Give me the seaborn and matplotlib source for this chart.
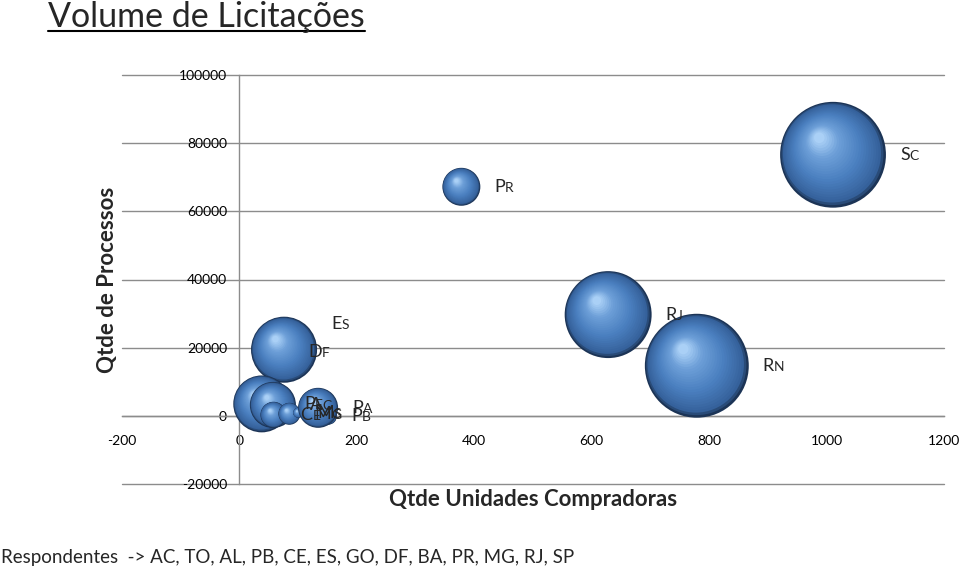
import numpy as np
import pandas as pd
import matplotlib
matplotlib.use("Agg")
import matplotlib.pyplot as plt
import seaborn as sns
from matplotlib.colors import LinearSegmentedColormap
from matplotlib.offsetbox import TextArea, HPacker, AnnotationBbox
from matplotlib.lines import Line2D

# --- dados ---
siglas = ["DF", "ES", "PE", "AC", "CE", "MG", "MS", "PB", "PA", "PR", "RJ", "RN", "SC"]
unidades = [76, 76, 38, 57, 58, 85, 100, 151, 134, 378, 628, 779, 1011]
processos = [18800, 19400, 3500, 3200, 300, 600, 900, 0, 2350, 67200, 29700, 14700, 76600]
tamanho = [100, 1090, 810, 530, 170, 120, 25, 80, 400, 360, 1890, 2700, 2800]

x_ticks = [-200, 0, 200, 400, 600, 800, 1000, 1200]
y_ticks = [-20000, 0, 20000, 40000, 60000, 80000, 100000]
respondentes = ["AC", "TO", "AL", "PB", "CE", "ES", "GO", "DF", "BA", "PR", "MG", "RJ", "SP"]

# ajustes de posicao dos rotulos (px)
LABEL_NUDGE = {"ES": (0, 26)}

FONTE = ["Lato", "DejaVu Sans"]
CINZA = "#8c8c8c"
DPI = 100

sns.set_style("white")
plt.rcParams["font.family"] = FONTE

fig = plt.figure(figsize=(9.6, 5.77), dpi=DPI)
ax = fig.add_axes([122 / 960, 1 - 484 / 577, 822 / 960, 409 / 577])
ax.set_xlim(-200, 1200)
ax.set_ylim(-20000, 100000)
ax.set_autoscale_on(False)

# --- bolhas com efeito de esfera (camadas) ---
esfera = LinearSegmentedColormap.from_list(
    "esfera",
    [(0.0, "#1c3456"), (0.08, "#36629c"), (0.4, "#4a7fbf"),
     (0.75, "#6d9fd8"), (1.0, "#aad0f6")])
N = 26
linhas = []
for sx, sy, t in zip(unidades, processos, tamanho):
    r = np.sqrt(t)  # raio em px
    cx, cy = ax.transData.transform((sx, sy))
    for k in range(N):
        f = k / (N - 1)
        rk = r * (1 - 0.9 * f)
        px = cx - 0.26 * r * f
        py = cy + 0.32 * r * f
        dx, dy = ax.transData.inverted().transform((px, py))
        linhas.append({"x": dx, "y": dy, "s": (2 * rk * 72 / DPI) ** 2, "f": f})
camadas = pd.DataFrame(linhas)
cores = esfera(camadas["f"].to_numpy())

sns.scatterplot(data=camadas, x="x", y="y", s=camadas["s"].to_numpy(), c=cores,
                edgecolor="none", linewidth=0, legend=False, ax=ax, zorder=3)
ax.set_xlim(-200, 1200)
ax.set_ylim(-20000, 100000)

# --- rotulos estilo versalete ---
for sig, sx, sy, t in zip(siglas, unidades, processos, tamanho):
    r = np.sqrt(t)
    nx, ny = LABEL_NUDGE.get(sig, (0, 0))
    a = TextArea(sig[0], textprops=dict(fontsize=13, family=FONTE))
    b = TextArea(sig[1:], textprops=dict(fontsize=10, family=FONTE))
    box = HPacker(children=[a, b], align="baseline", pad=0, sep=0)
    ab = AnnotationBbox(box, (sx, sy), xybox=((r + 14 + nx) * 0.72, ny * 0.72),
                        xycoords="data", boxcoords="offset points",
                        box_alignment=(0, 0.5), frameon=False, pad=0, zorder=5)
    ax.add_artist(ab)

# --- eixos ---
for lado in ["top", "right"]:
    ax.spines[lado].set_visible(False)
ax.spines["left"].set_position(("data", 0))
ax.spines["bottom"].set_position(("data", 0))
for lado in ["left", "bottom"]:
    ax.spines[lado].set_color(CINZA)
    ax.spines[lado].set_linewidth(1)

ax.set_xticks(x_ticks)
ax.set_xticklabels([str(v) for v in x_ticks])
ax.set_yticks(y_ticks)
ax.set_yticklabels([str(v) for v in y_ticks])
ax.tick_params(axis="both", direction="out", length=4, color=CINZA,
               labelsize=10, labelcolor="black")
ax.tick_params(axis="x", pad=10)
ax.tick_params(axis="y", pad=5)

ax.set_axisbelow(True)
ax.yaxis.grid(True, color=CINZA, linewidth=1)
ax.xaxis.grid(False)
for g in ax.get_ygridlines():
    g.set_clip_on(False)

ax.set_xlabel("Qtde Unidades Compradoras", fontsize=16, fontweight="bold")
ax.set_ylabel("Qtde de Processos", fontsize=16, fontweight="bold")
ax.xaxis.set_label_coords(0.5, -0.012)
ax.yaxis.set_label_coords(-0.005, 0.5)

# --- titulo sublinhado ---
titulo = fig.text(48 / 960, 1 - 27 / 577, "Volume de Licitações", fontsize=24.5,
                  va="baseline", ha="left")
fig.text(1 / 960, 1 - 563 / 577, "Respondentes  -> " + ", ".join(respondentes),
         fontsize=13.5, va="baseline", ha="left")

fig.canvas.draw()
bb = titulo.get_window_extent(fig.canvas.get_renderer())
yl = 1 - 30.5 / 577
fig.add_artist(Line2D([bb.x0 / 960, bb.x1 / 960], [yl, yl], color="black",
                      linewidth=1.5, transform=fig.transFigure))

fig.savefig("out.png", dpi=DPI)
